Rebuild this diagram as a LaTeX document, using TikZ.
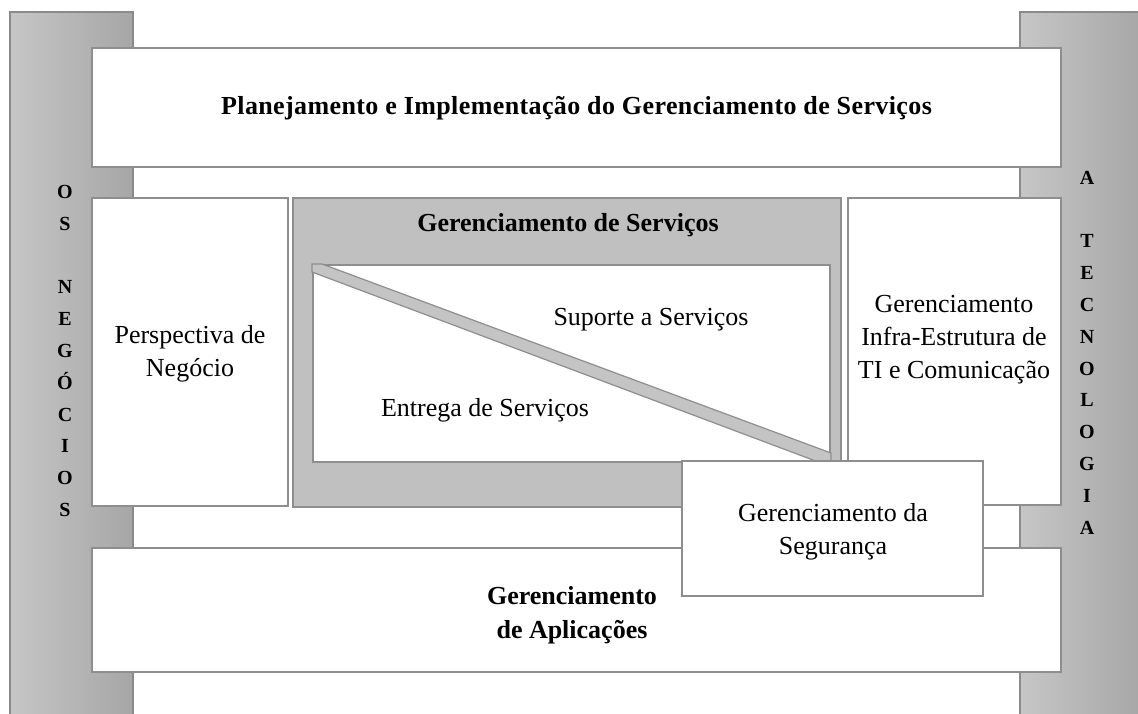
\documentclass[tikz,border=0pt]{standalone}
\usepackage{fontspec}
\setmainfont{Liberation Serif}
\definecolor{boxline}{HTML}{8E8E8E}
\definecolor{barline}{HTML}{8A8A8A}
\definecolor{barL}{HTML}{C6C6C6}
\definecolor{barR}{HTML}{A6A6A6}
\definecolor{grayfill}{HTML}{C0C0C0}
\definecolor{bandfill}{HTML}{C4C4C4}
\tikzset{
  box/.style={draw=boxline, line width=2pt, fill=white, inner sep=0pt},
  graybox/.style={draw=boxline, line width=2pt, fill=grayfill, inner sep=0pt},
  bar/.style={draw=barline, line width=1.5pt, left color=barL, right color=barR},
  txt/.style={font=\fontsize{26}{33}\selectfont, align=center, inner sep=0pt},
  btxt/.style={font=\fontsize{26}{34}\selectfont\bfseries, align=center, inner sep=0pt},
  bartxt/.style={font=\fontsize{20}{31.8}\selectfont\bfseries, align=center, inner sep=0pt},
}
\begin{document}
\begin{tikzpicture}[x=1pt,y=-1pt]
\useasboundingbox (0,0) rectangle (1138,713);
% side bars
\shade[bar] (10,12) rectangle (133,720);
\shade[bar] (1020,12) rectangle (1145,720);
\node[bartxt] (negocios) at (65,351) {O\\S\\[31.8pt]N\\E\\G\\Ó\\C\\I\\O\\S};
\node[bartxt] (tecnologia) at (1087,352.5) {A\\[31.8pt]T\\E\\C\\N\\O\\L\\O\\G\\I\\A};
% top box
\node[box, minimum width=969pt, minimum height=119pt] (plan) at (576.5,107.5) {};
\node[btxt, font=\fontsize{26}{34}\selectfont\bfseries\addfontfeature{LetterSpace=1.5}] (plantxt) at (576.5,108) {Planejamento e Implementação do Gerenciamento de Serviços};
% bottom box
\node[box, minimum width=969pt, minimum height=124pt] (apps) at (576.5,610) {};
\node[btxt] (appstxt) at (572,615) {Gerenciamento\\de Aplicações};
% left box
\node[box, minimum width=196pt, minimum height=308pt] (persp) at (190,352) {};
\node[txt] (persptxt) at (190,354) {Perspectiva de\\Negócio};
% right box
\node[box, minimum width=213pt, minimum height=307pt] (infra) at (954.5,351.5) {};
\node[txt] (infratxt) at (954,340) {Gerenciamento\\Infra-Estrutura de\\TI e Comunicação};
% service management
\node[graybox, minimum width=548pt, minimum height=309pt] (serv) at (567,352.5) {};
\node[btxt] (servtxt) at (568,225) {Gerenciamento de Serviços};
\node[box, minimum width=517pt, minimum height=197pt] (inner) at (571.5,363.5) {};
\coordinate (bandA) at (inner.north west);
\coordinate (bandB) at (inner.south east);
\filldraw[draw=boxline, fill=bandfill, line width=1.2pt]
  (bandA) -- ([xshift=10pt]bandA) -- ([yshift=10pt]bandB) -- (bandB) -- ([xshift=-10pt]bandB) -- ([yshift=-8pt]bandA) -- cycle;
\node[txt] (suporte) at (651,320) {Suporte a Serviços};
\node[txt] (entrega) at (485,410) {Entrega de Serviços};
% security
\node[box, minimum width=301pt, minimum height=135pt] (seg) at (832.5,528.5) {};
\node[txt] (segtxt) at (833,532) {Gerenciamento da\\Segurança};
\end{tikzpicture}
\end{document}
